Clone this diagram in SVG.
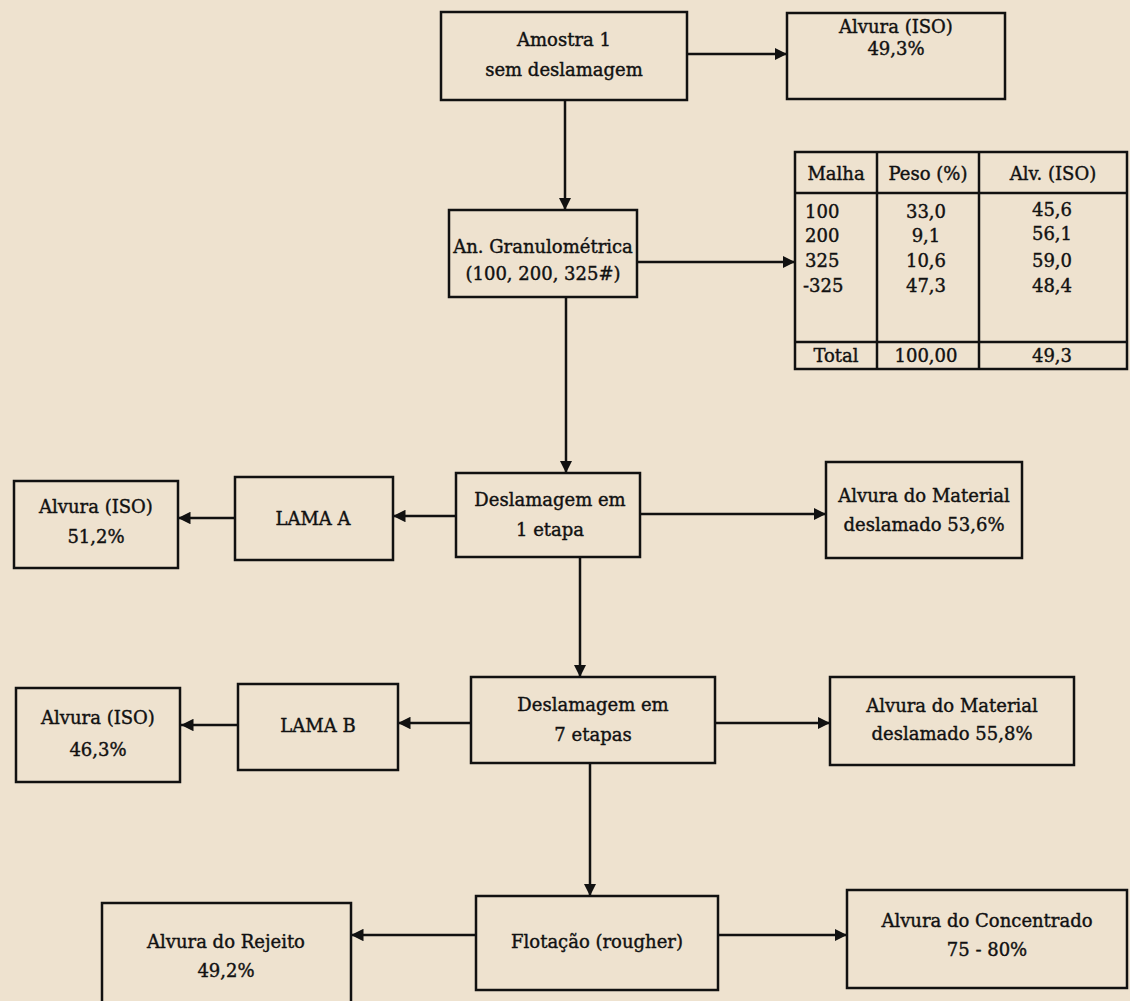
<svg xmlns="http://www.w3.org/2000/svg" width="1130" height="1001" viewBox="0 0 1130 1001">
<style>
.bx{fill:none;stroke:#111;stroke-width:2.5}
.ln{fill:none;stroke:#111;stroke-width:2.5}
.t{font-family:"DejaVu Serif","Liberation Serif",serif;font-size:18px;fill:#111;text-anchor:middle;stroke:#111;stroke-width:0.4}
.tl{font-family:"DejaVu Serif","Liberation Serif",serif;font-size:18px;fill:#111;stroke:#111;stroke-width:0.4}
</style>
<defs>
<marker id="ah" viewBox="0 0 10 10" refX="10" refY="5" markerWidth="5" markerHeight="5" orient="auto" markerUnits="strokeWidth">
<path d="M0,0 L10,5 L0,10 Z" fill="#111"/>
</marker>
</defs>
<rect width="1130" height="1001" fill="#eee2cf"/>
<g id="connectors">
<line class="ln" x1="687" y1="54" x2="787" y2="54" marker-end="url(#ah)"/>
<line class="ln" x1="565" y1="100" x2="565" y2="210" marker-end="url(#ah)"/>
<line class="ln" x1="637" y1="262" x2="795" y2="262" marker-end="url(#ah)"/>
<line class="ln" x1="566" y1="297" x2="566" y2="473" marker-end="url(#ah)"/>
<line class="ln" x1="456" y1="516" x2="393" y2="516" marker-end="url(#ah)"/>
<line class="ln" x1="235" y1="518" x2="178" y2="518" marker-end="url(#ah)"/>
<line class="ln" x1="640" y1="514" x2="826" y2="514" marker-end="url(#ah)"/>
<line class="ln" x1="580" y1="557" x2="580" y2="677" marker-end="url(#ah)"/>
<line class="ln" x1="471" y1="723" x2="398" y2="723" marker-end="url(#ah)"/>
<line class="ln" x1="238" y1="725" x2="181" y2="725" marker-end="url(#ah)"/>
<line class="ln" x1="715" y1="723" x2="830" y2="723" marker-end="url(#ah)"/>
<line class="ln" x1="590" y1="763" x2="590" y2="896" marker-end="url(#ah)"/>
<line class="ln" x1="476" y1="935" x2="351" y2="935" marker-end="url(#ah)"/>
<line class="ln" x1="718" y1="935" x2="847" y2="935" marker-end="url(#ah)"/>
</g>
<g id="amostra">
<rect class="bx" x="441" y="12" width="246" height="88"/>
<text class="t" x="564" y="46">Amostra 1</text>
<text class="t" x="564" y="76">sem deslamagem</text>
</g>
<g id="alvura1">
<rect class="bx" x="787" y="13" width="218" height="86"/>
<text class="t" x="896" y="33">Alvura (ISO)</text>
<text class="t" x="896" y="55">49,3%</text>
</g>
<g id="granulometrica">
<rect class="bx" x="449" y="210" width="188" height="87"/>
<text class="t" x="543" y="253">An. Granulométrica</text>
<text class="t" x="543" y="280">(100, 200, 325#)</text>
</g>
<g id="tabela">
<rect class="bx" x="795" y="152" width="332" height="217"/>
<line class="ln" x1="795" y1="193" x2="1127" y2="193"/>
<line class="ln" x1="795" y1="342" x2="1127" y2="342"/>
<line class="ln" x1="877" y1="152" x2="877" y2="369"/>
<line class="ln" x1="979" y1="152" x2="979" y2="369"/>
<text class="t" x="836" y="180">Malha</text>
<text class="t" x="928" y="180">Peso (%)</text>
<text class="t" x="1053" y="180">Alv. (ISO)</text>
<text class="tl" x="805" y="218">100</text>
<text class="tl" x="805" y="242">200</text>
<text class="tl" x="805" y="267">325</text>
<text class="tl" x="803" y="292">-325</text>
<text class="t" x="926" y="218">33,0</text>
<text class="t" x="926" y="242">9,1</text>
<text class="t" x="926" y="267">10,6</text>
<text class="t" x="926" y="292">47,3</text>
<text class="t" x="1052" y="216">45,6</text>
<text class="t" x="1052" y="240">56,1</text>
<text class="t" x="1052" y="267">59,0</text>
<text class="t" x="1052" y="292">48,4</text>
<text class="t" x="836" y="362">Total</text>
<text class="t" x="926" y="362">100,00</text>
<text class="t" x="1052" y="362">49,3</text>
</g>
<g id="deslamagem1">
<rect class="bx" x="456" y="473" width="184" height="84"/>
<text class="t" x="550" y="506">Deslamagem em</text>
<text class="t" x="550" y="536">1 etapa</text>
</g>
<g id="lamaA">
<rect class="bx" x="235" y="477" width="158" height="83"/>
<text class="t" x="313" y="525">LAMA A</text>
</g>
<g id="alvuraA">
<rect class="bx" x="14" y="481" width="164" height="87"/>
<text class="t" x="96" y="513">Alvura (ISO)</text>
<text class="t" x="96" y="543">51,2%</text>
</g>
<g id="material1">
<rect class="bx" x="826" y="462" width="196" height="96"/>
<text class="t" x="924" y="502">Alvura do Material</text>
<text class="t" x="924" y="531">deslamado  53,6%</text>
</g>
<g id="deslamagem7">
<rect class="bx" x="471" y="677" width="244" height="86"/>
<text class="t" x="593" y="711">Deslamagem em</text>
<text class="t" x="593" y="741">7 etapas</text>
</g>
<g id="lamaB">
<rect class="bx" x="238" y="684" width="160" height="86"/>
<text class="t" x="318" y="732">LAMA B</text>
</g>
<g id="alvuraB">
<rect class="bx" x="16" y="688" width="164" height="94"/>
<text class="t" x="98" y="724">Alvura (ISO)</text>
<text class="t" x="98" y="756">46,3%</text>
</g>
<g id="material7">
<rect class="bx" x="830" y="677" width="244" height="88"/>
<text class="t" x="952" y="712">Alvura do Material</text>
<text class="t" x="952" y="740">deslamado   55,8%</text>
</g>
<g id="flotacao">
<rect class="bx" x="476" y="896" width="242" height="94"/>
<text class="t" x="597" y="948">Flotação  (rougher)</text>
</g>
<g id="rejeito">
<rect class="bx" x="102" y="903" width="249" height="110"/>
<text class="t" x="226" y="948">Alvura do Rejeito</text>
<text class="t" x="226" y="977">49,2%</text>
</g>
<g id="concentrado">
<rect class="bx" x="847" y="890" width="280" height="98"/>
<text class="t" x="987" y="927">Alvura do Concentrado</text>
<text class="t" x="987" y="956">75 - 80%</text>
</g>
</svg>
